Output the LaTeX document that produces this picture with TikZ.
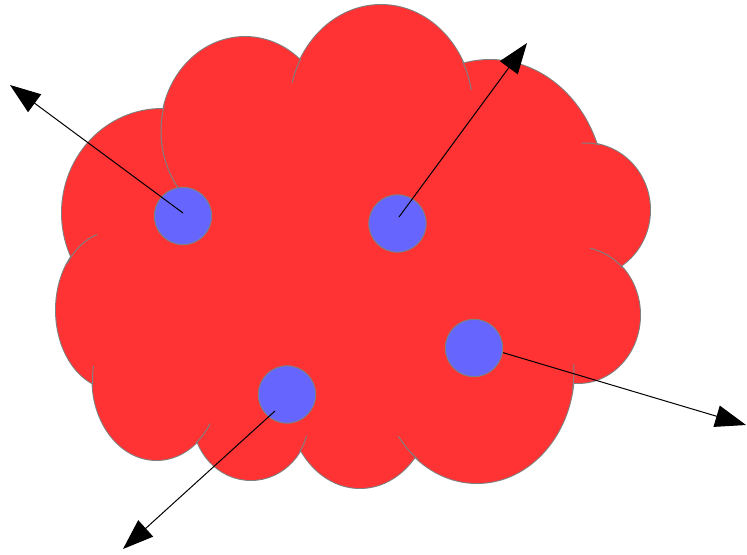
\documentclass[tikz,border=0pt]{standalone}
\usepackage{xcolor}
\usepackage{tikz}
\usetikzlibrary{arrows.meta}
\definecolor{cloudred}{HTML}{FF3333}
\definecolor{particleblue}{HTML}{6666FF}
\definecolor{edgegray}{HTML}{808080}
\tikzset{
  puffedge/.style={draw=edgegray, line width=1.5pt},
  pufffill/.style={fill=cloudred},
  stub/.style={draw=edgegray, line width=0.75pt},
  particle/.style={circle, draw=edgegray, line width=0.75pt, fill=particleblue, minimum size=43pt, inner sep=0pt},
  arrow/.style={-{Triangle[length=23pt, width=16.5pt]}, line width=0.75pt, draw=black}
}
% cloud bumps: centre x / centre y / x radius / y radius (in pixels)
\newcommand{\puffs}{162/213/100/104, 245/131/84/94, 381/110/92/105, 490/190/114/130,
  585/210/65/67, 578/315/62/68, 477/370/97/113, 360/400/72/88,
  251/418/58/62, 156.5/380/64/80, 114/310/58/79}

\begin{document}
\begin{tikzpicture}[x=0.75pt, y=-0.75pt]
  \useasboundingbox (0,0) rectangle (747,554);

  % outline first, the fill then hides its inner half
  \foreach \cx/\cy/\rx/\ry in \puffs {
    \draw[puffedge] (\cx,\cy) ellipse [x radius=\rx, y radius=\ry];
  }
  \fill[pufffill] (162,213) -- (245,131) -- (381,110) -- (490,190) -- (585,210) -- (578,315)
    -- (477,370) -- (360,400) -- (251,418) -- (156.5,380) -- (114,310) -- cycle;
  \foreach \cx/\cy/\rx/\ry in \puffs {
    \fill[pufffill] (\cx,\cy) ellipse [x radius=\rx, y radius=\ry];
  }

  % short inner arcs where two bumps meet
  \foreach \cx/\cy/\rx/\ry/\a/\b in {245/131/84/94/196/142, 381/110/92/105/209/195,
    381/110/92/105/-28/-11, 585/210/65/67/-77/-93, 578/315/62/68/-44/-79,
    477/370/97/113/10/-3, 477/370/97/113/127/144, 251/418/58/62/33/17,
    156.5/380/64/80/52/33, 156.5/380/64/80/176/190, 114/310/58/79/216/253} {
    \draw[stub] (\cx,\cy) ++(\a:{\rx} and {\ry}) arc[start angle=\a, end angle=\b, x radius=\rx, y radius=\ry];
  }

  \coordinate (tail1) at (183,213);
  \coordinate (head1) at (10,85);
  \coordinate (tail2) at (399,217);
  \coordinate (head2) at (527,43);
  \coordinate (tail3) at (474,344);
  \coordinate (head3) at (746,425);
  \coordinate (tail4) at (275,411);
  \coordinate (head4) at (123,549);

  \draw[arrow] (tail3) -- (head3);

  \node[particle] (p1) at (183,216) {};
  \node[particle] (p2) at (397.5,223.5) {};
  \node[particle] (p3) at (474,348) {};
  \node[particle] (p4) at (287,394.5) {};

  \draw[arrow] (tail1) -- (head1);
  \draw[arrow] (tail2) -- (head2);
  \draw[arrow] (tail4) -- (head4);
\end{tikzpicture}
\end{document}
